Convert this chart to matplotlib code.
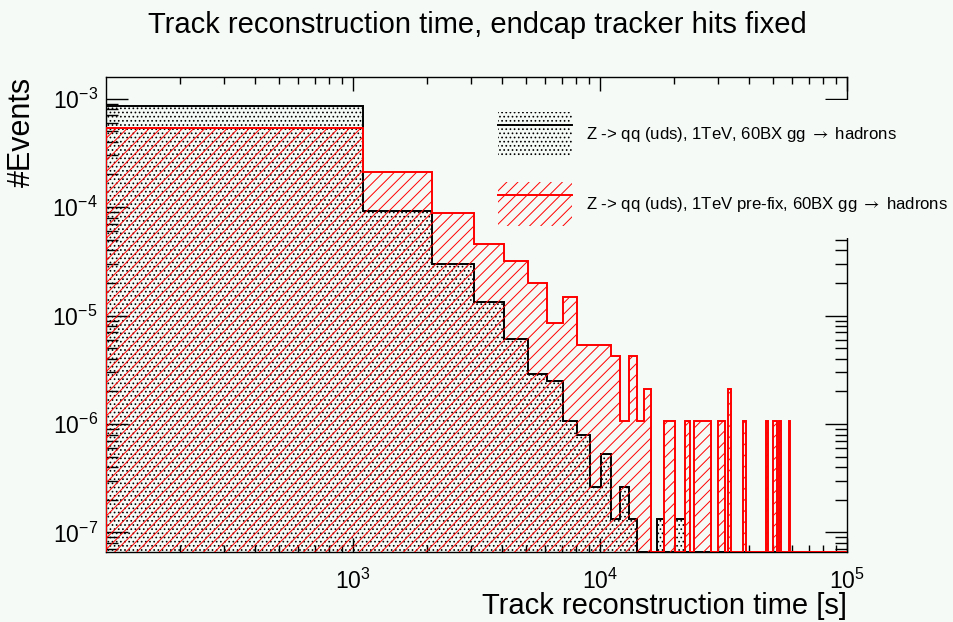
import numpy as np
import matplotlib
matplotlib.use("Agg")
import matplotlib.pyplot as plt
from matplotlib.patches import Patch
from matplotlib.lines import Line2D
from matplotlib.legend_handler import HandlerTuple
from matplotlib.ticker import FixedLocator, LogLocator, NullFormatter

# 100 bins of reconstruction time between 100 s and 1e5 s
n_bins = 100
t_min, t_max = 100.0, 1.0e5

# entries per bin, starting at the first bin (later bins are empty)
counts_fixed = [
    6425, 704, 228, 100, 46, 22, 19, 8, 6, 2,
    4, 1, 2, 1, 0, 0, 0, 1, 0, 0,
    1, 1,
]
counts_prefix = [
    502, 199, 84, 43, 30, 19, 8, 14, 5, 5,
    5, 4, 1, 4, 1, 2, 0, 0, 1, 1,
    0, 0, 1, 0, 1, 1, 1, 1, 0, 0,
    1, 1, 0, 2, 0, 0, 0, 0, 1, 0,
    0, 0, 0, 0, 0, 0, 0, 1, 0, 0,
    1, 1, 0, 1, 0, 0, 0, 0, 1,
]

label_fixed = r"Z -> qq (uds), 1TeV, 60BX gg ${\rightarrow}$ hadrons"
label_prefix = r"Z -> qq (uds), 1TeV pre-fix, 60BX gg ${\rightarrow}$ hadrons"

bg = "#f6faf7"
plt.rcParams["font.family"] = ["Liberation Sans", "DejaVu Sans"]
plt.rcParams["mathtext.fontset"] = "custom"
plt.rcParams["mathtext.rm"] = "Liberation Sans"
plt.rcParams["mathtext.it"] = "Liberation Sans:italic"
plt.rcParams["mathtext.bf"] = "Liberation Sans:bold"
plt.rcParams["hatch.linewidth"] = 0.7

edges = np.linspace(t_min, t_max, n_bins + 1)
width = edges[1] - edges[0]


def density(counts):
    c = np.zeros(n_bins)
    c[:len(counts)] = counts
    return c / (c.sum() * width)


dens_fixed = density(counts_fixed)
dens_prefix = density(counts_prefix)

y_floor = 6.6e-8
y_top = 1.585e-3

fig = plt.figure(figsize=(9.54, 6.22), dpi=100, facecolor=bg)
ax = fig.add_axes([106 / 954, 70 / 622, 741 / 954, 475 / 622], facecolor=bg)
ax.set_xscale("log")
ax.set_yscale("log")

# empty bins sit on the lower edge of the frame
ax.stairs(np.maximum(dens_fixed, y_floor), edges, baseline=y_floor, fill=True,
          facecolor="none", edgecolor="black", hatch="....", lw=1.4, zorder=3)
ax.stairs(np.maximum(dens_prefix, y_floor), edges, baseline=y_floor, fill=True,
          facecolor="none", edgecolor="red", hatch="///", lw=1.4, zorder=3)

ax.set_xlim(t_min, t_max)
ax.set_ylim(y_floor, y_top)

ax.xaxis.set_major_locator(FixedLocator([1e3, 1e4, 1e5]))
ax.xaxis.set_minor_locator(LogLocator(base=10, subs=np.arange(2, 10)))
ax.xaxis.set_minor_formatter(NullFormatter())
ax.yaxis.set_major_locator(LogLocator(base=10, numticks=20))
ax.yaxis.set_minor_locator(LogLocator(base=10, subs=np.arange(2, 10), numticks=20))
ax.yaxis.set_minor_formatter(NullFormatter())

ax.tick_params(which="both", direction="in", top=True, right=True, width=1,
               labelsize=16.5)
ax.tick_params(axis="x", which="major", length=10, pad=12)
ax.tick_params(axis="x", which="minor", length=5)
ax.tick_params(axis="y", which="major", length=16, pad=6)
ax.tick_params(axis="y", which="minor", length=8.5)
for sp in ax.spines.values():
    sp.set_linewidth(1)

ax.set_xlabel("Track reconstruction time [s]", fontsize=21, ha="right", va="center")
ax.xaxis.set_label_coords(1.0, -0.113)
ax.set_ylabel("#Events", fontsize=22, ha="right", va="center")
ax.yaxis.set_label_coords(-0.113, 1.0)

fig.text(0.5, 1 - 25 / 622, "Track reconstruction time, endcap tracker hits fixed",
         fontsize=21, ha="center", va="center")

h_fixed = (Patch(facecolor="none", edgecolor="black", hatch="....", lw=0),
           Line2D([], [], color="black", lw=1.4))
h_prefix = (Patch(facecolor="none", edgecolor="red", hatch="///", lw=0),
            Line2D([], [], color="red", lw=1.4))
leg = ax.legend([h_fixed, h_prefix], [label_fixed, label_prefix],
                handler_map={tuple: HandlerTuple(ndivide=1)},
                loc="upper left", bbox_to_anchor=(486 / 954, 1 - 100 / 622),
                bbox_transform=fig.transFigure, fontsize=12.1,
                handlelength=4.4, handleheight=3.72, labelspacing=1.5,
                handletextpad=0.85, borderpad=0.7, borderaxespad=0,
                frameon=True, fancybox=False, framealpha=1,
                facecolor=bg, edgecolor="none")
leg.set_zorder(5)
for t in leg.get_texts():
    t.set_math_fontfamily("stix")

fig.savefig("out.png", dpi=100, facecolor=bg)
